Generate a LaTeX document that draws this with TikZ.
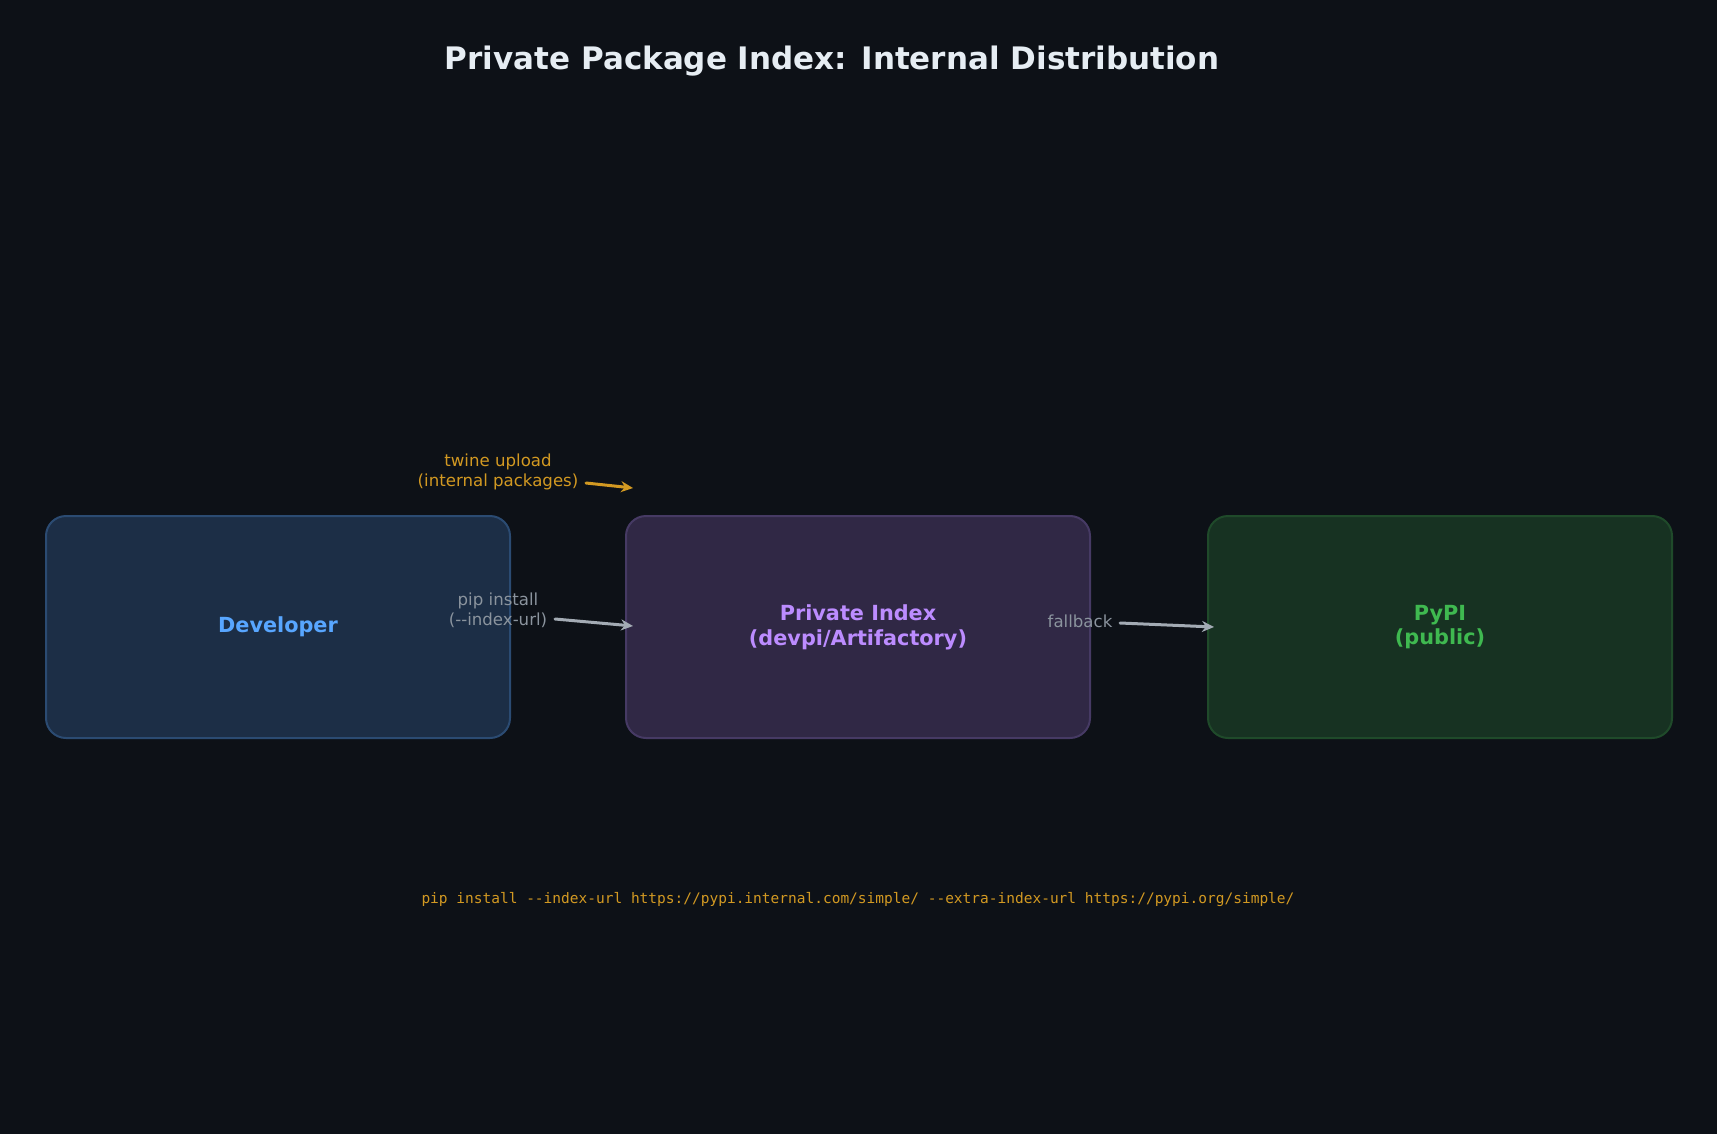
\documentclass[tikz,border=0pt]{standalone}
\usepackage{fontspec}
\setmainfont{DejaVu Sans}
\setmonofont{DejaVu Sans Mono}
\usetikzlibrary{arrows.meta}

\definecolor{bgdark}{HTML}{0D1117}
\definecolor{titlefg}{HTML}{E6EDF3}
\definecolor{devfill}{HTML}{1C2E46}
\definecolor{devline}{HTML}{2B4B72}
\definecolor{devtext}{HTML}{58A6FF}
\definecolor{privfill}{HTML}{302845}
\definecolor{privline}{HTML}{463A64}
\definecolor{privtext}{HTML}{BC8CFF}
\definecolor{pypifill}{HTML}{173222}
\definecolor{pypiline}{HTML}{1F4A2A}
\definecolor{pypitext}{HTML}{3FB950}
\definecolor{flowgray}{HTML}{A3ABB4}
\definecolor{labelgray}{HTML}{8B949E}
\definecolor{uploadorange}{HTML}{D29922}

\begin{document}
\begin{tikzpicture}[x=0.5pt,y=-0.5pt,>=Stealth,line cap=round,
    line join=round,
    stage/.style={rounded corners=10pt,line width=1pt,minimum width=232pt,
      minimum height=111pt,align=center,
      font=\fontsize{10.4}{12.4}\selectfont\bfseries},
    edgelabel/.style={align=center,font=\fontsize{8.3}{9.8}\selectfont},
    flow/.style={->,line width=1.5pt,flowgray,
      arrows={-Stealth[length=6pt,width=5.5pt]}}]
    % Page background and frame.
    \fill[bgdark] (0,0) rectangle (1717,1134);
    \useasboundingbox (0,0) rectangle (1717,1134);

    \node[font=\fontsize{15.5}{18}\selectfont\bfseries,text=titlefg]
      (title) at (832,61) {Private Package Index: Internal Distribution};

    % The three stages.
    \node[stage,fill=devfill,draw=devline,text=devtext]
      (dev) at (278,627) {Developer};
    \node[stage,fill=privfill,draw=privline,text=privtext]
      (priv) at (858,627) {Private Index\\(devpi/Artifactory)};
    \node[stage,fill=pypifill,draw=pypiline,text=pypitext]
      (pypi) at (1440,627) {PyPI\\(public)};

    % Upload path.
    \node[edgelabel,text=uploadorange] (twinel) at (498,472)
      {twine upload\\(internal packages)};
    \coordinate (twinea) at (586,483);
    \coordinate (twineb) at (633,488);
    \draw[flow,uploadorange] (twinea) -- (twineb);

    % Install path.
    \node[edgelabel,text=labelgray] (pipl) at (498,610)
      {pip install\\({-}{-}index-url)};
    \coordinate (pipa) at (555,619);
    \coordinate (pipb) at (633,626);
    \draw[flow] (pipa) -- (pipb);

    % Fallback to the public index.
    \node[edgelabel,text=labelgray] (fallbackl) at (1080,621) {fallback};
    \coordinate (fallbacka) at (1120,623);
    \coordinate (fallbackb) at (1214,627);
    \draw[flow] (fallbacka) -- (fallbackb);

    \node[font=\ttfamily\fontsize{7.25}{9}\selectfont,text=uploadorange]
      (cmd) at (858,899) {pip install --index-url
      https://pypi.internal.com/simple/ --extra-index-url
      https://pypi.org/simple/};
  \end{tikzpicture}
\end{document}
